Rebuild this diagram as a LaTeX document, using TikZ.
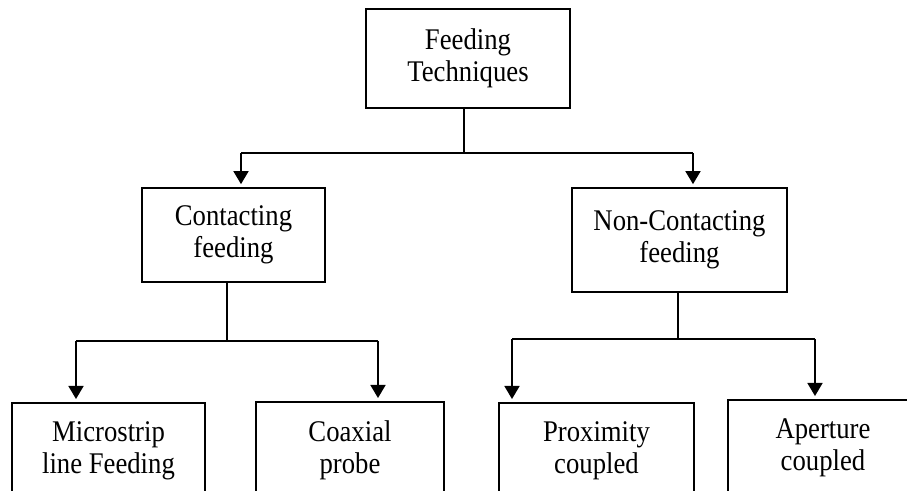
\documentclass[tikz,border=0pt]{standalone}
\usepackage{fontspec}
\setmainfont{Liberation Serif}[FakeStretch=0.89]
\usetikzlibrary{arrows.meta, positioning}

\begin{document}
\begin{tikzpicture}[x=0.5pt, y=-0.5pt, font=\fontsize{15}{16}\selectfont,
        box/.style={draw, line width=0.85pt, align=center, inner sep=0pt},
        leaf/.style={box, anchor=north, minimum height=48pt},
        line/.style={line width=0.85pt},
        arr/.style={line, -{Triangle[width=7.5pt, length=6.5pt]}, shorten >=1.5pt}]
        \useasboundingbox (0,0) rectangle (907,491);
        \clip (0,0) rectangle (907,491);

        % Nodes
        \node (feed) [box, minimum width=102pt, minimum height=49.5pt] at (468,58.5) {Feeding\\Techniques};
        \node (cont) [box, minimum width=91.5pt, minimum height=47pt] at (233.5,235) {Contacting\\feeding};
        \node (noncont) [box, minimum width=107.5pt, minimum height=52pt] at (679.5,240) {Non-Contacting\\feeding};
        \node (micro) [leaf, minimum width=96.5pt] at (108.5,402) {Microstrip\\line Feeding};
        \node (coax) [leaf, minimum width=94pt] at (350,401) {Coaxial\\probe};
        \node (prox) [leaf, minimum width=97.5pt] at (596.5,402) {Proximity\\coupled};
        \node (aper) [leaf, minimum width=95pt] at (823,399) {Aperture\\coupled};

        % Branch points
        \coordinate (t) at (464,153);
        \coordinate (tl) at (241,153);
        \coordinate (tr) at (693,153);
        \coordinate (c) at (227,341);
        \coordinate (cl) at (76,341);
        \coordinate (cr) at (378,341);
        \coordinate (n) at (678,339);
        \coordinate (nl) at (512,339);
        \coordinate (nr) at (815,339);

        % Arrows
        \draw[line] (feed.south -| t) -- (t);
        \draw[line] (tl) -- (tr);
        \draw[arr] (tl) -- (tl |- cont.north);
        \draw[arr] (tr) -- (tr |- noncont.north);

        \draw[line] (cont.south -| c) -- (c);
        \draw[line] (cl) -- (cr);
        \draw[arr] (cl) -- (cl |- micro.north);
        \draw[arr] (cr) -- (cr |- coax.north);

        \draw[line] (noncont.south -| n) -- (n);
        \draw[line] (nl) -- (nr);
        \draw[arr] (nl) -- (nl |- prox.north);
        \draw[arr] (nr) -- (nr |- aper.north);

    \end{tikzpicture}
\end{document}
